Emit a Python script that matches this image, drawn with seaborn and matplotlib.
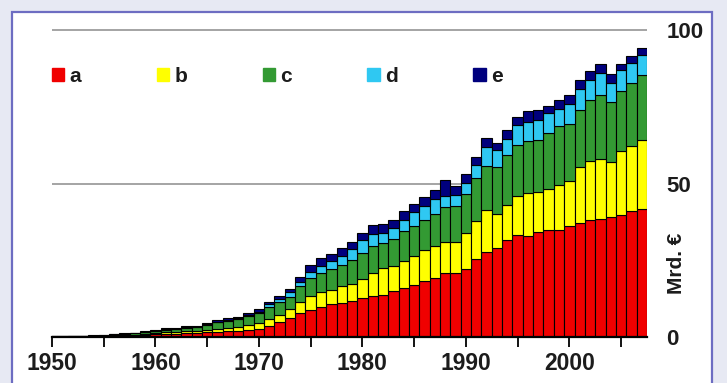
import numpy as np
import pandas as pd
import matplotlib
matplotlib.use("Agg")
import matplotlib.pyplot as plt
import matplotlib.transforms as mtransforms
from matplotlib.patches import Patch, Rectangle
from matplotlib.ticker import MultipleLocator
import seaborn as sns

# values (Mrd. EUR per year, one stacked layer each)
years = list(range(1950, 2008))
a = [0.10, 0.10, 0.15, 0.15, 0.20, 0.20, 0.40, 0.50, 0.60, 0.80,
     1.00, 1.10, 1.10, 1.30, 1.30, 1.50, 1.70, 1.90, 2.00, 2.30,
     2.50, 3.60, 5.00, 6.10, 7.90, 8.80, 9.90, 10.70, 11.20, 11.80,
     12.70, 13.30, 13.80, 14.90, 16.00, 17.00, 18.10, 19.20, 21.00, 21.00,
     22.20, 25.40, 27.60, 29.00, 31.70, 33.30, 33.00, 34.10, 35.00, 35.00,
     36.10, 37.00, 38.00, 38.50, 39.10, 39.90, 40.90, 41.70]
b = [0.05, 0.05, 0.05, 0.05, 0.05, 0.10, 0.10, 0.10, 0.15, 0.20,
     0.30, 0.40, 0.40, 0.60, 0.60, 0.80, 0.90, 1.00, 1.20, 1.60,
     2.00, 2.20, 2.20, 2.90, 3.60, 4.60, 4.90, 4.60, 5.40, 5.50,
     6.20, 7.50, 8.70, 8.30, 8.60, 9.50, 10.30, 10.30, 10.10, 10.10,
     11.70, 12.30, 13.90, 11.20, 11.40, 12.50, 13.90, 13.00, 13.20, 14.60,
     14.60, 18.40, 19.20, 19.50, 17.80, 20.60, 21.20, 22.60]
c = [0.05, 0.05, 0.10, 0.10, 0.15, 0.15, 0.30, 0.40, 0.45, 0.50,
     0.70, 0.90, 1.00, 1.10, 1.20, 1.70, 2.20, 2.40, 2.60, 2.90,
     3.20, 4.10, 4.30, 4.10, 5.10, 5.70, 5.90, 6.70, 6.90, 7.80,
     8.40, 8.70, 8.10, 8.70, 9.80, 9.80, 9.80, 10.70, 11.20, 11.70,
     12.60, 14.10, 14.30, 15.20, 16.30, 16.80, 16.80, 17.20, 18.20, 19.00,
     18.80, 18.60, 20.00, 20.90, 19.50, 19.80, 20.80, 21.10]
d = [0.02, 0.02, 0.02, 0.02, 0.02, 0.05, 0.05, 0.05, 0.05, 0.10,
     0.10, 0.15, 0.15, 0.20, 0.20, 0.20, 0.20, 0.30, 0.30, 0.40,
     0.50, 0.70, 0.90, 1.40, 1.40, 2.10, 2.50, 2.60, 2.90, 3.50,
     4.20, 4.10, 3.40, 3.50, 3.80, 4.30, 4.60, 4.70, 3.50, 3.60,
     3.70, 4.30, 6.10, 5.60, 5.10, 6.60, 6.50, 6.50, 6.60, 5.70,
     6.50, 6.70, 6.60, 7.00, 6.30, 6.80, 6.30, 6.60]
e = [0.08, 0.08, 0.08, 0.08, 0.08, 0.10, 0.15, 0.15, 0.15, 0.20,
     0.20, 0.25, 0.25, 0.30, 0.30, 0.40, 0.50, 0.50, 0.50, 0.70,
     0.80, 0.90, 0.90, 1.30, 1.60, 2.30, 2.40, 2.40, 2.50, 2.40,
     2.30, 2.80, 2.80, 2.60, 2.70, 2.80, 2.80, 2.90, 5.40, 2.90,
     2.90, 2.70, 2.90, 2.20, 2.80, 2.40, 3.30, 3.20, 2.30, 3.00,
     2.90, 3.10, 3.00, 3.10, 3.10, 1.90, 2.20, 2.10]

series_names = ['a', 'b', 'c', 'd', 'e']
series_colors = ['#f00000', '#ffff00', '#339a33', '#2fc8f2', '#00007d']
x_labels = [1950, 1960, 1970, 1980, 1990, 2000]
y_ticks = [0, 50, 100]

df = pd.DataFrame({'year': years, 'a': a, 'b': b, 'c': c, 'd': d, 'e': e})

sns.set_theme(style='white')
plt.rcParams['font.family'] = ['Liberation Sans', 'DejaVu Sans']
text_color = '#1c1c1c'

fig = plt.figure(figsize=(7.27, 3.83), dpi=100, facecolor='#e7e9f3')
# white card with the blue-violet frame, kept behind the axes
fig.patches.append(Rectangle((0.0165, -0.02), 0.963, 0.9887, transform=fig.transFigure,
                             facecolor='white', edgecolor='#6d6dc2', lw=1.6, zorder=-5))

ax = fig.add_axes([0.0715, 0.1201, 0.8184, 0.8175])
ax.set_facecolor('none')
ax.set_zorder(2)

bottom = np.zeros(len(df))
for name, color in zip(series_names, series_colors):
    sns.barplot(data=df, x='year', y=name, native_scale=True, width=1, color=color,
                saturation=1, edgecolor='black', linewidth=0.8, bottom=bottom,
                errorbar=None, ax=ax)
    bottom = bottom + df[name].to_numpy()

# only the 50 and 100 lines
for v in y_ticks[1:]:
    ax.axhline(v, color='#8c8c8c', lw=1.1, zorder=0.5)

ax.set_xlim(1950, 2007.5)
ax.set_ylim(0, 102)
ax.set_xlabel('')
ax.set_ylabel('')

for s in ['top', 'left', 'right']:
    ax.spines[s].set_visible(False)
ax.spines['bottom'].set_color('black')
ax.spines['bottom'].set_linewidth(1.6)

ax.set_xticks(x_labels)
ax.set_xticklabels([str(x) for x in x_labels], fontsize=16.5, fontweight='bold', color=text_color)
ax.xaxis.set_minor_locator(MultipleLocator(5))
ax.tick_params(axis='x', which='both', direction='out', length=7, width=1.3,
               color='black', bottom=True, pad=4)

ax.yaxis.tick_right()
ax.set_yticks(y_ticks)
ax.set_yticklabels([str(v) for v in y_ticks], fontsize=16, fontweight='bold', color=text_color)
ax.tick_params(axis='y', length=0, pad=14)

trans = mtransforms.blended_transform_factory(ax.transAxes, ax.transData)
ax.text(1.05, 24, 'Mrd. €', transform=trans, rotation=90, ha='center', va='center',
        fontsize=15, fontweight='bold', color=text_color)

handles = [Patch(facecolor=col, edgecolor=col) for col in series_colors]
ax.legend(handles, series_names, ncol=5, loc='upper left', bbox_to_anchor=(0.0, 0.862),
          frameon=False, handlelength=0.6, handleheight=0.6, handletextpad=0.25,
          columnspacing=3.62, borderaxespad=0, borderpad=0,
          prop={'weight': 'bold', 'size': 15}, labelcolor=text_color)

fig.savefig('out.png', dpi=100, facecolor=fig.get_facecolor())
